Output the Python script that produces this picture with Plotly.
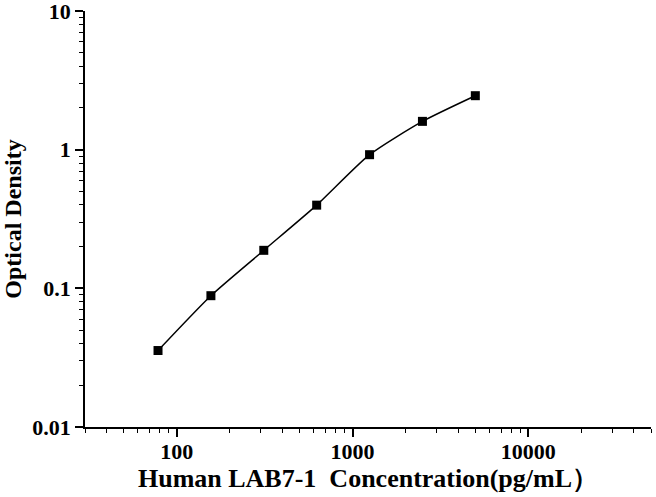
import plotly.graph_objects as go
import numpy as np

conc = [78.125, 156.25, 312.5, 625, 1250, 2500, 5000]
od = [0.0356, 0.0885, 0.188, 0.398, 0.92, 1.60, 2.45]

x_ticks = [100, 1000, 10000]
x_labels = ["100", "1000", "10000"]
y_ticks = [0.01, 0.1, 1, 10]
y_labels = ["0.01", "0.1", "1", "10"]

FONT = "Liberation Serif"

# minor tick positions (2..9 of every decade)
x_minor = [m * 10 ** d for d in range(1, 5) for m in range(2, 10)]
y_minor = [m * 10.0 ** d for d in range(-2, 1) for m in range(2, 10)]

fig = go.Figure()

fig.add_trace(go.Scatter(
    x=conc, y=od,
    mode="lines+markers",
    line=dict(color="black", width=1.5, shape="spline", smoothing=0.6),
    marker=dict(symbol="square", size=9, color="black"),
    showlegend=False
))

axis_common = dict(
    type="log",
    showgrid=False,
    zeroline=False,
    showline=True,
    linecolor="black",
    linewidth=1.5,
    ticks="outside",
    ticklen=8,
    tickwidth=1.5,
    tickcolor="black",
    automargin=False,
    ticklabeloverflow="allow",
    tickfont=dict(family=FONT, size=22, color="black", weight="bold"),
)

fig.update_xaxes(
    **axis_common,
    range=[np.log10(30), np.log10(50000)],
    tickvals=x_ticks, ticktext=x_labels,
    ticklabelstandoff=-4,
    minor=dict(ticks="outside", ticklen=4, tickwidth=1.2, tickcolor="black",
               tickvals=x_minor, showgrid=False),
    title=dict(text="<b>Human LAB7-1 \u00a0Concentration(pg/mL\uff09</b>",
               font=dict(family=FONT, size=26, color="black"), standoff=0),
)
fig.update_yaxes(
    **axis_common,
    range=[-2, 1],
    tickvals=y_ticks, ticktext=y_labels,
    minor=dict(ticks="outside", ticklen=4, tickwidth=1.2, tickcolor="black",
               tickvals=y_minor, showgrid=False),
    title=dict(text="<b>Optical Density</b>",
               font=dict(family=FONT, size=24, color="black"), standoff=6),
)

fig.update_layout(
    width=656, height=497,
    margin=dict(l=85, r=5, t=11, b=70),
    plot_bgcolor="white",
    paper_bgcolor="white",
)

fig.write_html("out.html", config={"displayModeBar": False},
               post_script="document.body.style.margin='0';")
